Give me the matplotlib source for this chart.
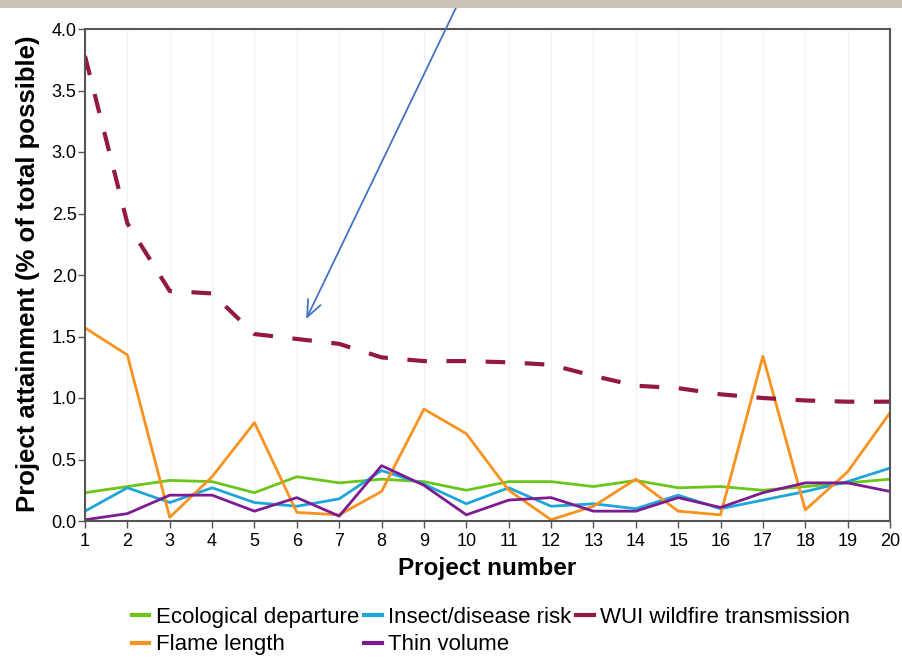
import matplotlib
matplotlib.use("Agg")
import matplotlib.pyplot as plt
from matplotlib.patches import Rectangle

plt.rcParams['font.family'] = ['Liberation Sans', 'DejaVu Sans']

projects = list(range(1, 21))
ecological = [0.23, 0.28, 0.33, 0.32, 0.23, 0.36, 0.31, 0.34, 0.32, 0.25,
              0.32, 0.32, 0.28, 0.33, 0.27, 0.28, 0.25, 0.28, 0.31, 0.34]
insect = [0.08, 0.27, 0.15, 0.27, 0.15, 0.12, 0.18, 0.41, 0.30, 0.14,
          0.27, 0.12, 0.14, 0.10, 0.21, 0.10, 0.17, 0.24, 0.32, 0.43]
wui = [3.78, 2.42, 1.87, 1.85, 1.52, 1.48, 1.44, 1.33, 1.30, 1.30,
       1.29, 1.27, 1.18, 1.10, 1.08, 1.03, 1.00, 0.98, 0.97, 0.97]
flame = [1.57, 1.35, 0.03, 0.36, 0.80, 0.07, 0.05, 0.24, 0.91, 0.71,
         0.25, 0.01, 0.12, 0.34, 0.08, 0.05, 1.34, 0.09, 0.40, 0.88]
thin = [0.01, 0.06, 0.21, 0.21, 0.08, 0.19, 0.04, 0.45, 0.29, 0.05,
        0.17, 0.19, 0.08, 0.08, 0.19, 0.11, 0.23, 0.31, 0.31, 0.24]

yticks = [0.0, 0.5, 1.0, 1.5, 2.0, 2.5, 3.0, 3.5, 4.0]

fig = plt.figure(figsize=(9.02, 6.6), dpi=100)
fig.patch.set_facecolor('white')
fig.patches.append(Rectangle((0, 1 - 8 / 660), 1, 8 / 660, transform=fig.transFigure,
                             facecolor='#c9c2b6', edgecolor='none', zorder=0))

ax = fig.add_axes([85 / 902, 1 - 521 / 660, 805 / 902, 492 / 660])

l_eco, = ax.plot(projects, ecological, color='#6cc51a', lw=2, label='Ecological departure')
l_ins, = ax.plot(projects, insect, color='#1ea6d8', lw=2, label='Insect/disease risk')
l_fl, = ax.plot(projects, flame, color='#f7931e', lw=2, label='Flame length')
l_th, = ax.plot(projects, thin, color='#7d1c91', lw=2, label='Thin volume')
l_wui, = ax.plot(projects, wui, color='#931a3e', lw=3, ls=(0, (4.7, 4.7)),
                 label='WUI wildfire transmission')

ax.set_xlim(1, 20)
ax.set_ylim(0, 4.0)
ax.set_xticks(projects)
ax.set_yticks(yticks)
ax.set_yticklabels([f'{v:.1f}' for v in yticks])
ax.tick_params(axis='both', direction='out', length=5, width=1, color='#555555',
               labelsize=13)
ax.tick_params(axis='x', pad=4)
ax.tick_params(axis='y', pad=1)
for sp in ax.spines.values():
    sp.set_color('#555555')
    sp.set_linewidth(1.5)
ax.grid(axis='x', color='#f3f3f3', lw=1)
ax.set_axisbelow(True)

ax.set_xlabel('Project number', fontsize=17.5, fontweight='bold', labelpad=5)
ax.set_ylabel('Project attainment (% of total possible)', fontsize=18.5,
              fontweight='bold')
ax.yaxis.set_label_coords(-0.056, 0.503)

handles = [l_eco, l_fl, l_ins, l_th, l_wui]
leg = fig.legend(handles, [h.get_label() for h in handles], ncol=3,
                 loc='center', bbox_to_anchor=(491 / 902, 1 - 631 / 660),
                 frameon=False, fontsize=16, handlelength=0.8,
                 handletextpad=0.3, columnspacing=0.2, labelspacing=0.3)
for lh in leg.get_lines():
    lh.set_linestyle('-')
    lh.set_linewidth(3)

ax.annotate('', xy=(6.19, 1.62), xytext=(9.85, 4.24), xycoords='data',
            textcoords='data', annotation_clip=False,
            arrowprops=dict(arrowstyle='->,head_length=1.2,head_width=0.5',
                            color='#4472c4', lw=1.3))

fig.savefig('out.png', dpi=100)
